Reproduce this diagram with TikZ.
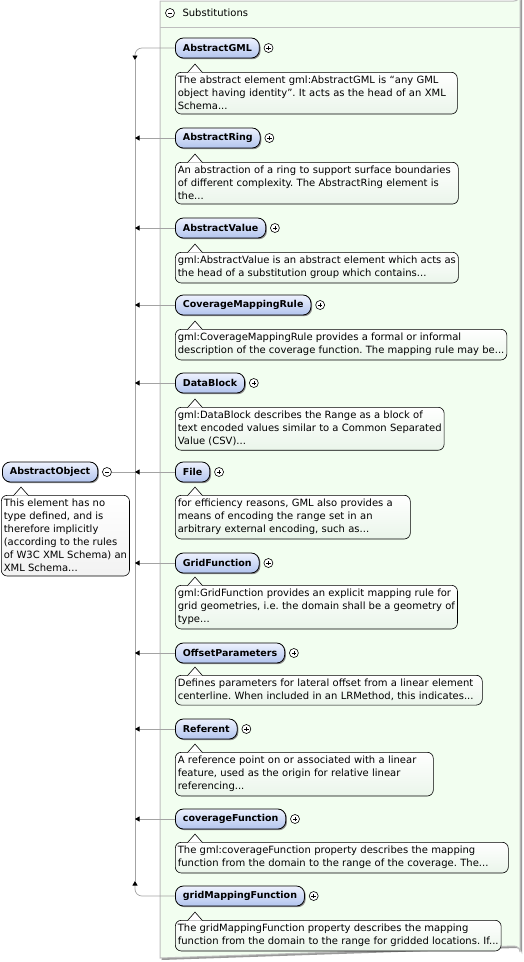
\documentclass[tikz,border=0pt]{standalone}
\usepackage{fontspec}
\setmainfont{DejaVu Sans}
\usetikzlibrary{arrows.meta,shadows,positioning}
\definecolor{panelfill}{HTML}{F2FEF0}
\definecolor{panelline}{HTML}{BEBEBE}
\definecolor{linkgray}{HTML}{A3A3A3}
\definecolor{elemtop}{HTML}{EEF2FE}
\definecolor{elembot}{HTML}{B2C4EE}
\definecolor{docbot}{HTML}{EAF5EA}
\tikzset{
  elem/.style={draw=black, line width=0.8pt, rounded corners=8pt, top color=elemtop, bottom color=elembot,
    minimum height=20pt, inner xsep=7.5pt, inner ysep=0pt, anchor=west,
    font=\fontsize{9.5}{11}\selectfont\bfseries,
    drop shadow={shadow xshift=1.2pt, shadow yshift=-1.2pt, fill=black!45, opacity=1}},
  doc/.style={draw=black, line width=0.6pt, rounded corners=6pt, top color=white, bottom color=docbot,
    align=left, anchor=north west, inner xsep=2.5pt, inner ysep=4pt, font=\fontsize{10}{13}\selectfont\frenchspacing},
  plus/.style={circle, draw=black, line width=0.6pt, minimum size=9pt, inner sep=0pt, fill=white,
    path picture={\draw[line width=0.6pt] (path picture bounding box.center) ++(-2.2pt,0) -- ++(4.4pt,0)
      (path picture bounding box.center) ++(0,-2.2pt) -- ++(0,4.4pt);}},
  minus/.style={circle, draw=black, line width=0.6pt, minimum size=9pt, inner sep=0pt, fill=white,
    path picture={\draw[line width=0.6pt] (path picture bounding box.center) ++(-2.2pt,0) -- ++(4.4pt,0);}},
  link/.style={draw=linkgray, line width=0.7pt},
  linkarrow/.style={-{Triangle[length=4.5pt,width=5pt,color=black,fill=black]}}
}
% the little pointer on top of a documentation box
\newcommand\docnotch[1]{\filldraw[draw=black, line width=0.6pt, fill=white]
  ([xshift=12.5pt,yshift=-0.6pt]#1.north west) -- ++(7.5pt,8.5pt) -- ++(7.5pt,-8.5pt);}
\begin{document}
\begin{tikzpicture}[x=1pt,y=-1pt]
\useasboundingbox (0,0) rectangle (524,962);
% substitutions panel
\fill[black!40] (161.5,2.5) -- (516,2.5) arc (90:0:6) -- (522,954) arc (0:-90:6) -- (161.5,960) -- cycle;
\draw[panelline, fill=panelfill, line width=1pt] (160,1) -- (514,1) arc (90:0:6) -- (520,952) arc (0:-90:6) -- (160,958) -- cycle;
\draw[panelline, line width=1pt] (160,27) -- (520,27);
\node[minus] (subx) at (170,13) {};
\node[anchor=west, font=\fontsize{10}{12}\selectfont] (subs) at (179,13) {Substitutions};

% the head element
\node[elem] (obj) at (2,472) {AbstractObject};
\node[minus, right=4pt of obj] (objx) {};
\node[doc, bottom color=black!5] (objdoc) at (1,495) {This element has no\\type defined, and is\\therefore implicitly\\(according to the rules\\of W3C XML Schema) an\\XML Schema...};
\docnotch{objdoc}

% substitution members
\node[elem] (gml) at (175,48) {AbstractGML};
\node[plus, right=4pt of gml] (gmlx) {};
\node[doc, text width=277pt] (gmldoc) at (175,72) {The abstract element gml:AbstractGML is “any GML\\object having identity”. It acts as the head of an XML\\Schema...};
\docnotch{gmldoc}

\node[elem] (ring) at (175,138) {AbstractRing};
\node[plus, right=4pt of ring] (ringx) {};
\node[doc, text width=278pt] (ringdoc) at (175,162) {An abstraction of a ring to support surface boundaries\\of different complexity. The AbstractRing element is\\the...};
\docnotch{ringdoc}

\node[elem] (val) at (175,228) {AbstractValue};
\node[plus, right=4pt of val] (valx) {};
\node[doc] (valdoc) at (175,252) {gml:AbstractValue is an abstract element which acts as\\the head of a substitution group which contains...};
\docnotch{valdoc}

\node[elem] (cmr) at (175,305) {CoverageMappingRule};
\node[plus, right=4pt of cmr] (cmrx) {};
\node[doc] (cmrdoc) at (175,329) {gml:CoverageMappingRule provides a formal or informal\\description of the coverage function. The mapping rule may be...};
\docnotch{cmrdoc}

\node[elem] (blk) at (175,383) {DataBlock};
\node[plus, right=4pt of blk] (blkx) {};
\node[doc] (blkdoc) at (175,407) {gml:DataBlock describes the Range as a block of\\text encoded values similar to a Common Separated\\Value (CSV)...};
\docnotch{blkdoc}

\node[elem] (file) at (175,472) {File};
\node[plus, right=4pt of file] (filex) {};
\node[doc, text width=230pt] (filedoc) at (175,495) {for efficiency reasons, GML also provides a\\means of encoding the range set in an\\arbitrary external encoding, such as...};
\docnotch{filedoc}

\node[elem] (grid) at (175,563) {GridFunction};
\node[plus, right=4pt of grid] (gridx) {};
\node[doc] (griddoc) at (175,585) {gml:GridFunction provides an explicit mapping rule for\\grid geometries, i.e. the domain shall be a geometry of\\type...};
\docnotch{griddoc}

\node[elem] (off) at (175,653) {OffsetParameters};
\node[plus, right=4pt of off] (offx) {};
\node[doc, text width=302pt] (offdoc) at (175,675) {Defines parameters for lateral offset from a linear element\\centerline. When included in an LRMethod, this indicates...};
\docnotch{offdoc}

\node[elem] (ref) at (175,729) {Referent};
\node[plus, right=4pt of ref] (refx) {};
\node[doc, text width=253pt] (refdoc) at (175,752) {A reference point on or associated with a linear\\feature, used as the origin for relative linear\\referencing...};
\docnotch{refdoc}

\node[elem] (cov) at (175,819) {coverageFunction};
\node[plus, right=4pt of cov] (covx) {};
\node[doc, text width=328pt] (covdoc) at (175,842) {The gml:coverageFunction property describes the mapping\\function from the domain to the range of the coverage. The...};
\docnotch{covdoc}

\node[elem] (gmf) at (175,896) {gridMappingFunction};
\node[plus, right=4pt of gmf] (gmfx) {};
\node[doc] (gmfdoc) at (175,920) {The gridMappingFunction property describes the mapping\\function from the domain to the range for gridded locations. If...};
\docnotch{gmfdoc}

% connectors
\coordinate (trunktop) at (135,60);
\coordinate (trunkbot) at (135,881);
\draw[link] (trunktop) -- (trunkbot);
\draw[link] (objx.east) -- (objx -| trunktop);
\draw[link, rounded corners=7pt, linkarrow] (gml.west) -| (trunktop);
\draw[link, rounded corners=7pt, linkarrow] (gmf.west) -| (trunkbot);
\draw[link, linkarrow] (ring.west) -- (ring.west -| trunktop);
\draw[link, linkarrow] (val.west) -- (val.west -| trunktop);
\draw[link, linkarrow] (cmr.west) -- (cmr.west -| trunktop);
\draw[link, linkarrow] (blk.west) -- (blk.west -| trunktop);
\draw[link, linkarrow] (file.west) -- (file.west -| trunktop);
\draw[link, linkarrow] (grid.west) -- (grid.west -| trunktop);
\draw[link, linkarrow] (off.west) -- (off.west -| trunktop);
\draw[link, linkarrow] (ref.west) -- (ref.west -| trunktop);
\draw[link, linkarrow] (cov.west) -- (cov.west -| trunktop);
\end{tikzpicture}
\end{document}
